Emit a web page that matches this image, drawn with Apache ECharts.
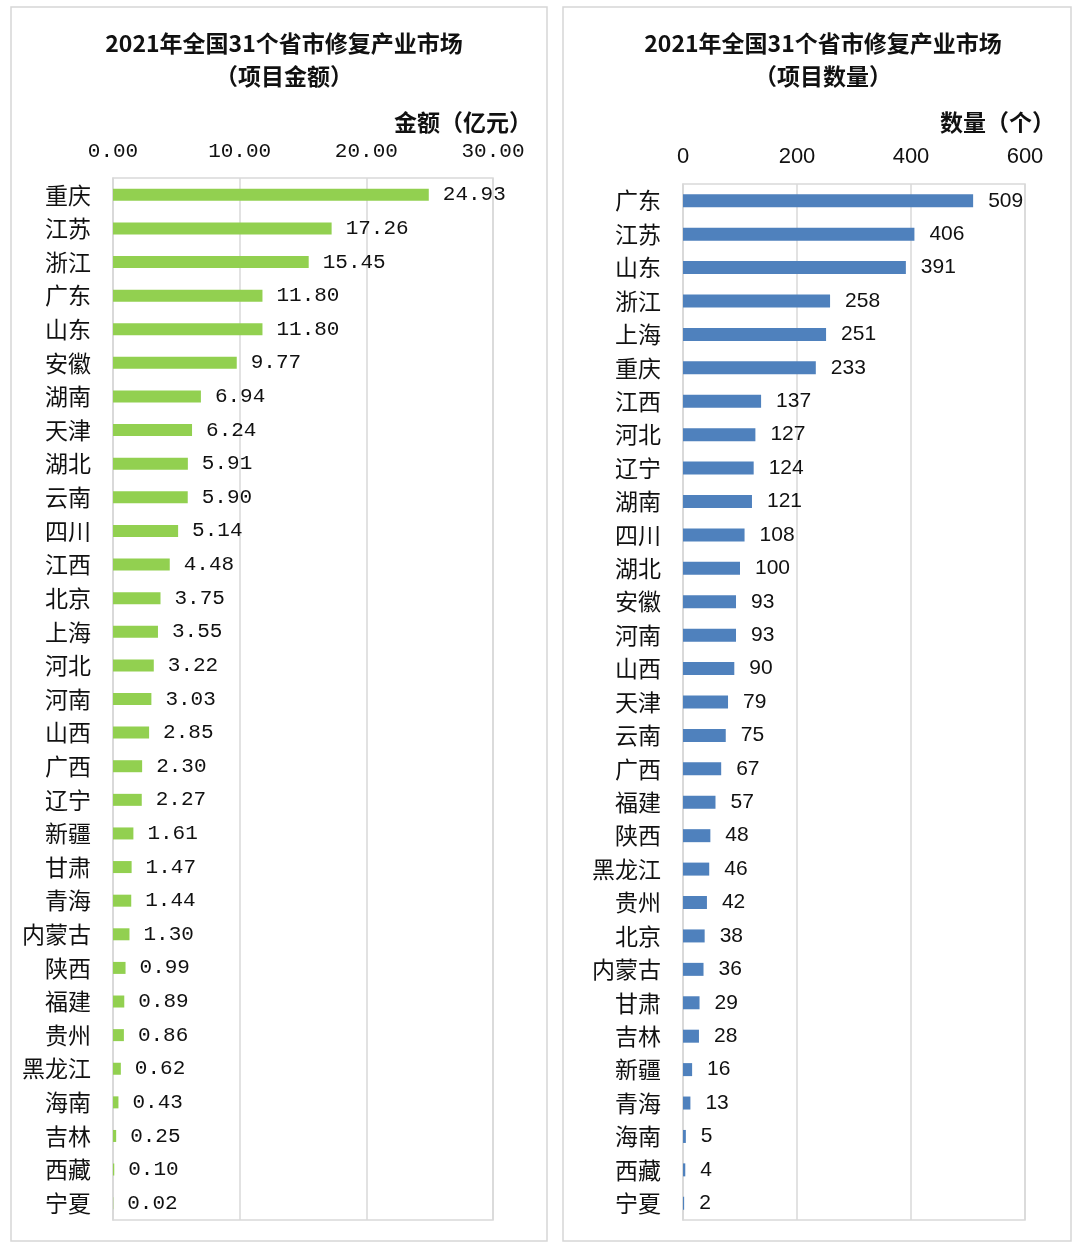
<!DOCTYPE html>
<html>
<head>
<meta charset="utf-8">
<script src="https://cdn.jsdelivr.net/npm/echarts@6/dist/echarts.min.js"></script>
<style>
html,body{margin:0;padding:0;background:#fff;}
#c{width:1080px;height:1243px;}
</style>
</head>
<body>
<div id="c"></div>
<script>
// ---- Data ----
const amountProvinces = ['重庆','江苏','浙江','广东','山东','安徽','湖南','天津','湖北','云南','四川','江西','北京','上海','河北','河南','山西','广西','辽宁','新疆','甘肃','青海','内蒙古','陕西','福建','贵州','黑龙江','海南','吉林','西藏','宁夏'];
const amountValues = [24.93,17.26,15.45,11.80,11.80,9.77,6.94,6.24,5.91,5.90,5.14,4.48,3.75,3.55,3.22,3.03,2.85,2.30,2.27,1.61,1.47,1.44,1.30,0.99,0.89,0.86,0.62,0.43,0.25,0.10,0.02];
const amountTicks = [0, 10, 20, 30];

const countProvinces = ['广东','江苏','山东','浙江','上海','重庆','江西','河北','辽宁','湖南','四川','湖北','安徽','河南','山西','天津','云南','广西','福建','陕西','黑龙江','贵州','北京','内蒙古','甘肃','吉林','新疆','青海','海南','西藏','宁夏'];
const countValues = [509,406,391,258,251,233,137,127,124,121,108,100,93,93,90,79,75,67,57,48,46,42,38,36,29,28,16,13,5,4,2];
const countTicks = [0, 200, 400, 600];

const titleLeft = '2021年全国31个省市修复产业市场\n（项目金额）';
const titleRight = '2021年全国31个省市修复产业市场\n（项目数量）';
const axisNameLeft = '金额（亿元）';
const axisNameRight = '数量（个）';

// ---- Chart ----
const chart = echarts.init(document.getElementById('c'), null, {renderer: 'canvas'});
const CJK = '"Noto Sans CJK SC", "Noto Sans", sans-serif';
const gridColor = '#d9d9d9';

const option = {
  backgroundColor: '#fff',
  animation: false,
  graphic: [
    {type: 'rect', shape: {x: 11, y: 7, width: 536, height: 1234}, style: {fill: 'none', stroke: '#d6d6d6', lineWidth: 1.5}},
    {type: 'rect', shape: {x: 563, y: 7, width: 508, height: 1234}, style: {fill: 'none', stroke: '#d6d6d6', lineWidth: 1.5}}
  ],
  title: [
    {text: titleLeft, left: 279, top: 22, textAlign: 'center',
     textStyle: {fontFamily: CJK, fontSize: 23, fontWeight: 'bold', color: '#111', lineHeight: 33}},
    {text: titleRight, left: 818, top: 22, textAlign: 'center',
     textStyle: {fontFamily: CJK, fontSize: 23, fontWeight: 'bold', color: '#111', lineHeight: 33}},
    {text: axisNameLeft, left: 527, top: 106, textAlign: 'right',
     textStyle: {fontFamily: CJK, fontSize: 23, fontWeight: 'bold', color: '#111'}},
    {text: axisNameRight, left: 1050, top: 106, textAlign: 'right',
     textStyle: {fontFamily: CJK, fontSize: 23, fontWeight: 'bold', color: '#111'}}
  ],
  grid: [
    {left: 113, right: 587, top: 178, bottom: 23, show: true, borderColor: gridColor, borderWidth: 1.5, containLabel: false},
    {left: 683, right: 55, top: 184, bottom: 23, show: true, borderColor: gridColor, borderWidth: 1.5, containLabel: false}
  ],
  xAxis: [
    {gridIndex: 0, type: 'value', position: 'top', min: amountTicks[0], max: amountTicks[amountTicks.length-1], interval: amountTicks[1]-amountTicks[0],
     axisLine: {show: false}, axisTick: {show: false},
     splitLine: {show: true, lineStyle: {color: gridColor, width: 1.5}},
     axisLabel: {margin: 16, fontFamily: '"Liberation Mono", monospace', fontSize: 21, color: '#111',
                 formatter: v => v.toFixed(2)}},
    {gridIndex: 1, type: 'value', position: 'top', min: countTicks[0], max: countTicks[countTicks.length-1], interval: countTicks[1]-countTicks[0],
     axisLine: {show: false}, axisTick: {show: false},
     splitLine: {show: true, lineStyle: {color: gridColor, width: 1.5}},
     axisLabel: {margin: 16, fontFamily: '"Liberation Sans", Arial, sans-serif', fontSize: 22, color: '#111'}}
  ],
  yAxis: [
    {gridIndex: 0, type: 'category', data: amountProvinces, inverse: true,
     axisLine: {show: true, lineStyle: {color: gridColor, width: 1.5}}, axisTick: {show: false},
     axisLabel: {margin: 22, fontFamily: CJK, fontSize: 23, color: '#111'}},
    {gridIndex: 1, type: 'category', data: countProvinces, inverse: true,
     axisLine: {show: true, lineStyle: {color: gridColor, width: 1.5}}, axisTick: {show: false},
     axisLabel: {margin: 22, fontFamily: CJK, fontSize: 23, color: '#111'}}
  ],
  series: [
    {type: 'bar', xAxisIndex: 0, yAxisIndex: 0, data: amountValues, barWidth: 12,
     itemStyle: {color: '#92D050'},
     label: {show: true, position: 'right', distance: 14, fontFamily: '"Liberation Mono", monospace', fontSize: 21, color: '#111',
             formatter: p => p.value.toFixed(2)}},
    {type: 'bar', xAxisIndex: 1, yAxisIndex: 1, data: countValues, barWidth: 13,
     itemStyle: {color: '#4F81BD'},
     label: {show: true, position: 'right', distance: 15, fontFamily: '"Liberation Sans", Arial, sans-serif', fontSize: 21, color: '#111'}}
  ]
};
chart.setOption(option);
</script>
</body>
</html>
